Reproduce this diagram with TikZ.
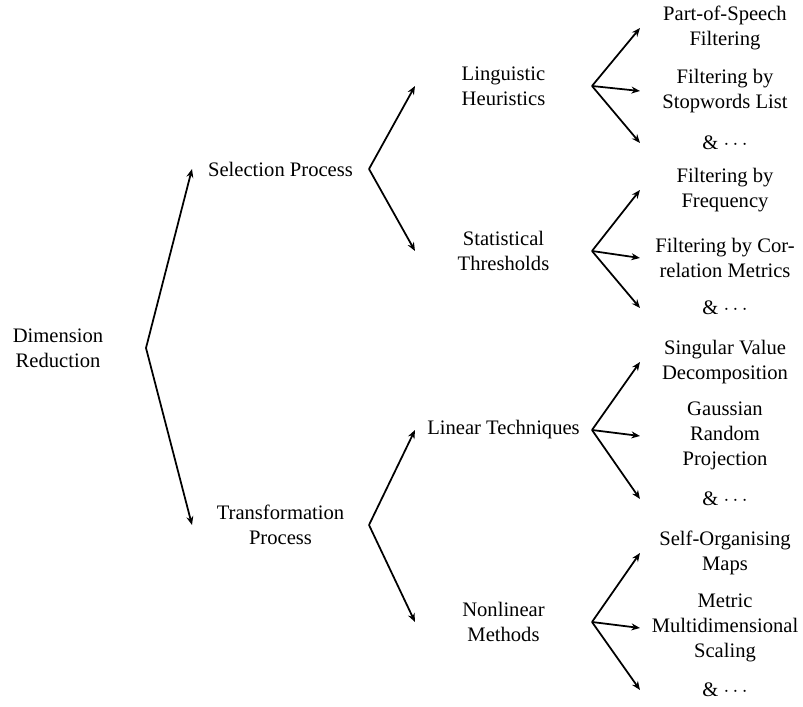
\documentclass[tikz,border=0pt]{standalone}
\usepackage{fontspec}
\setmainfont{Liberation Serif}
\usetikzlibrary{arrows.meta}
\begin{document}
\begin{tikzpicture}[x=0.4854pt,y=-0.4854pt,
  every node/.style={font=\fontsize{10}{12}\selectfont, align=center, inner sep=0pt, outer sep=0pt},
  lvzero/.style={minimum width=85.43pt},
  lvone/.style={minimum width=85.92pt},
  lvtwo/.style={minimum width=85.92pt},
  lvthree/.style={minimum width=82.52pt},
  arr/.style={line width=0.85pt, -{Stealth[length=4.2pt,width=3.4pt]}}]
\useasboundingbox (0,0) rectangle (803,707);
% level 0
\node[lvzero] (DR) at (58,348) {Dimension\\Reduction};
% level 1
\node[lvone] (SP) at (280.5,169) {Selection Process};
\node[lvone] (TP) at (280.5,525) {Transformation\\Process};
% level 2
\node[lvtwo] (LH) at (503.5,86) {Linguistic\\Heuristics};
\node[lvtwo] (ST) at (503.5,251) {Statistical\\Thresholds};
\node[lvtwo] (LT) at (503.5,430) {Linear Techniques};
\node[lvtwo] (NM) at (503.5,622) {Nonlinear\\Methods};
% level 3
\node[lvthree] (PS) at (725,28) {Part-of-Speech\\Filtering};
\node[lvthree] (SW) at (725,91) {Filtering by\\Stopwords List};
\node[lvthree] (EA) at (725,143) {\& $\cdots$};
\node[lvthree] (FF) at (725,190) {Filtering by\\Frequency};
\node[lvthree] (CM) at (725,258) {Filtering by Cor-\\relation Metrics};
\node[lvthree] (EB) at (725,308) {\& $\cdots$};
\node[lvthree] (SV) at (725,362) {Singular Value\\Decomposition};
\node[lvthree] (GR) at (725,436) {Gaussian\\Random\\Projection};
\node[lvthree] (EC) at (725,499) {\& $\cdots$};
\node[lvthree] (SO) at (725,553) {Self-Organising\\Maps};
\node[lvthree] (MM) at (725,628) {Metric\\Multidimensional\\Scaling};
\node[lvthree] (ED) at (725,690) {\& $\cdots$};
% connectors
\draw[arr] (DR.east) -- (SP.west);
\draw[arr] (DR.east) -- (TP.west);
\draw[arr] (SP.east) -- (LH.west);
\draw[arr] (SP.east) -- (ST.west);
\draw[arr] (TP.east) -- (LT.west);
\draw[arr] (TP.east) -- (NM.west);
\foreach \p/\c in {LH/PS,LH/SW,LH/EA,ST/FF,ST/CM,ST/EB,LT/SV,LT/GR,LT/EC,NM/SO,NM/MM,NM/ED}
  \draw[arr] (\p.east) -- (\c.west);
\end{tikzpicture}
\end{document}
